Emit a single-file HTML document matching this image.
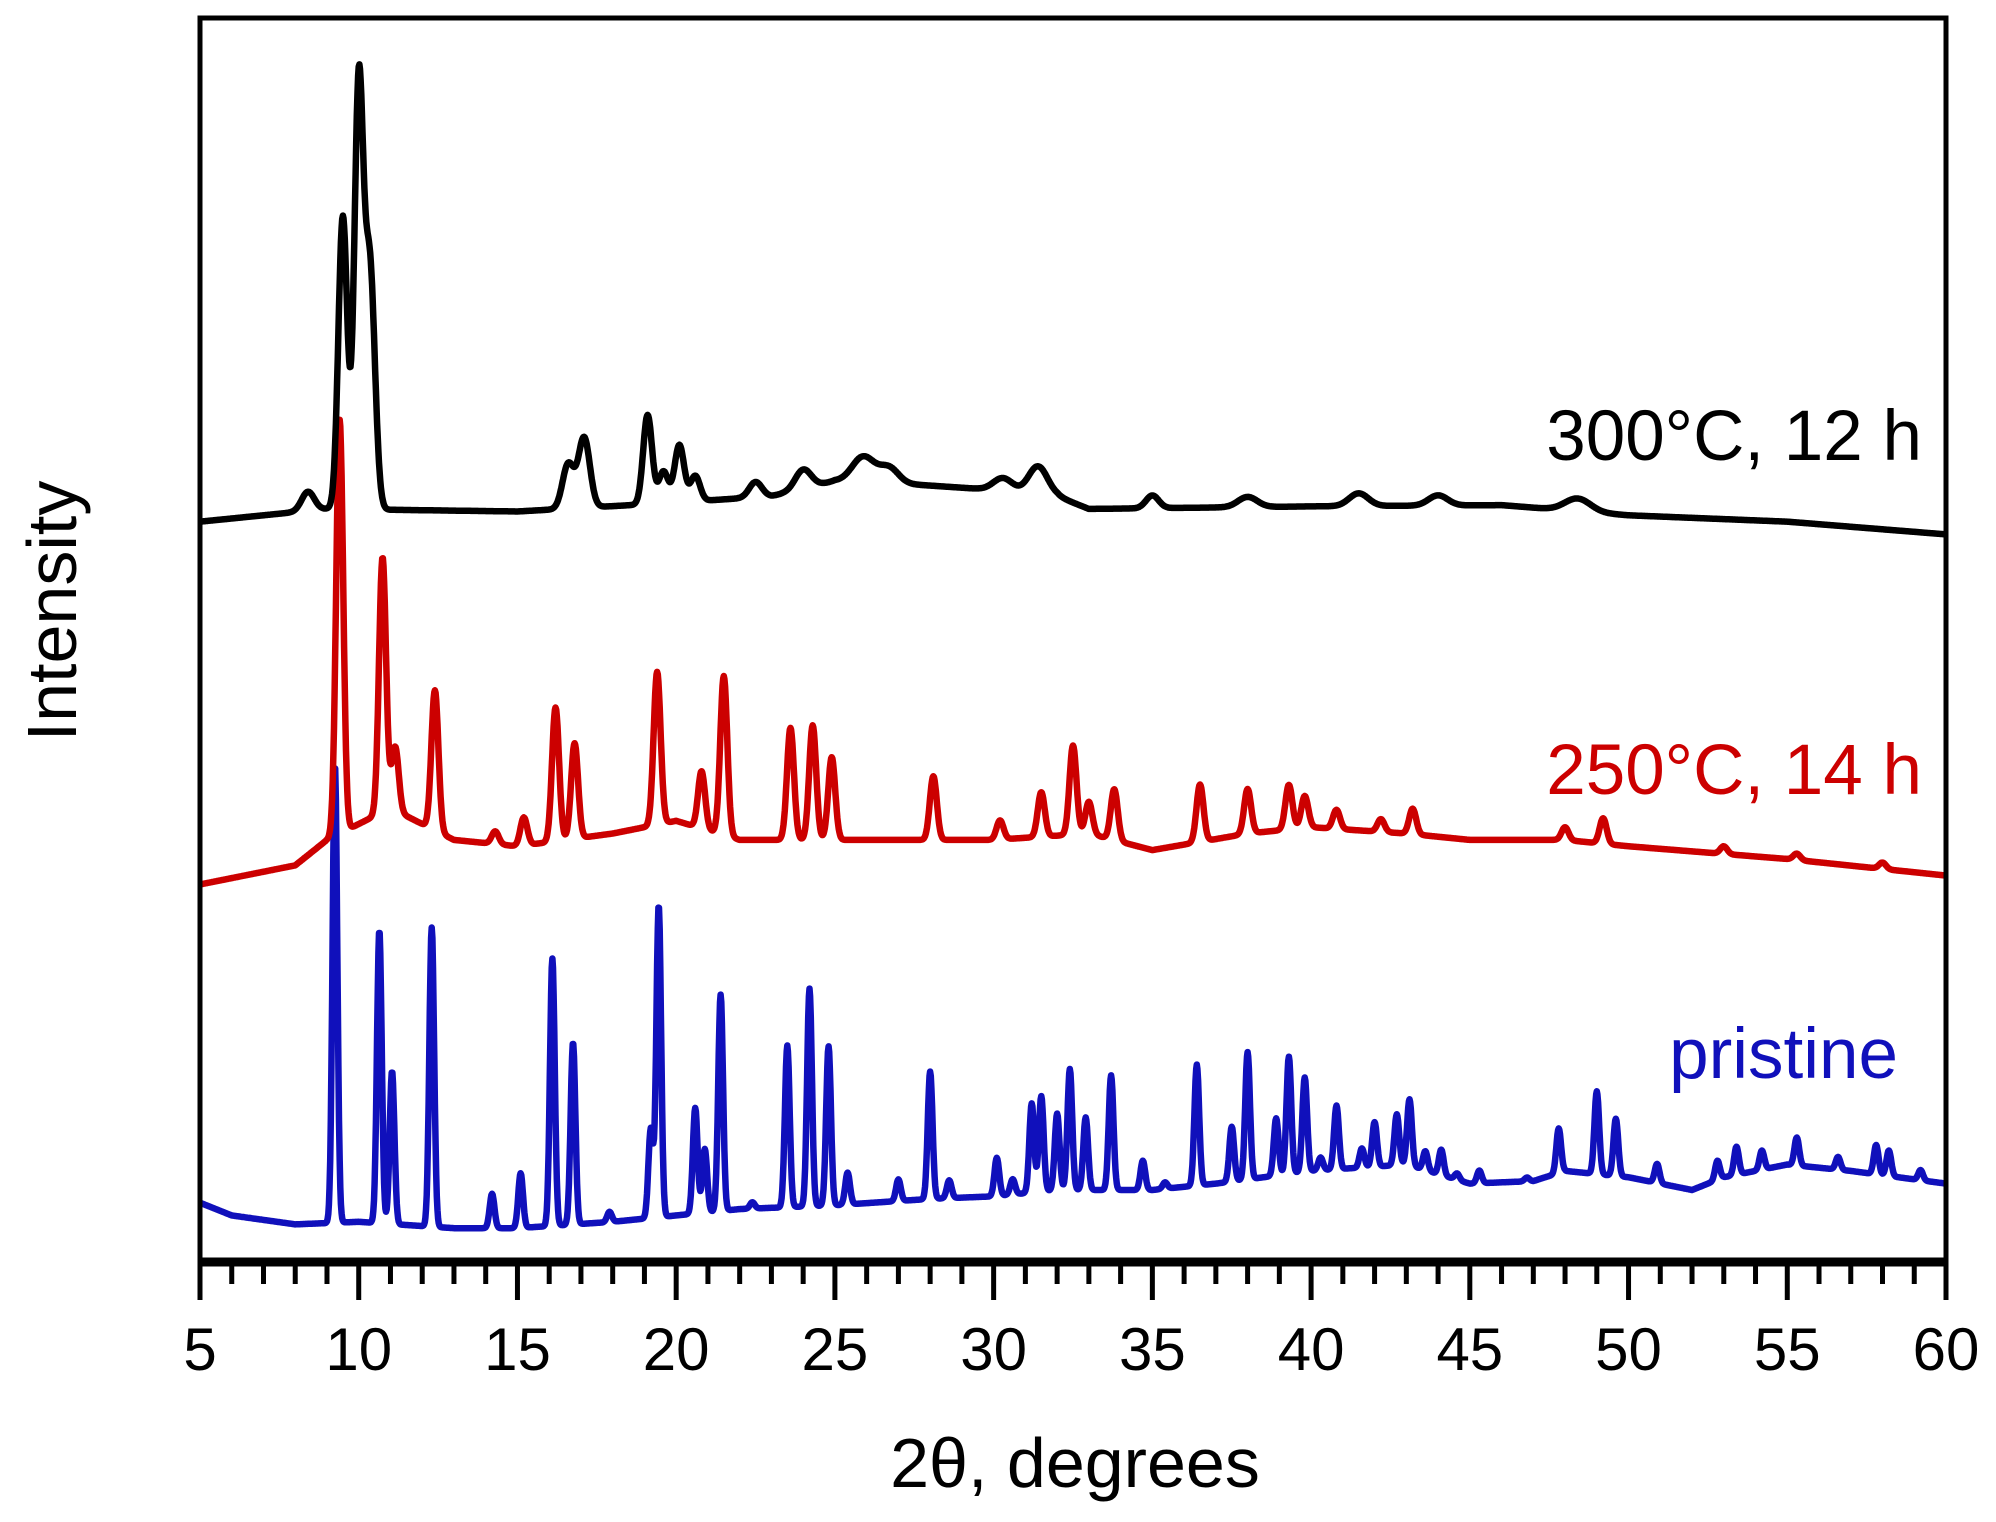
<!DOCTYPE html>
<html><head><meta charset="utf-8"><style>
html,body{margin:0;padding:0;background:#fff;}
svg text{font-family:"Liberation Sans",sans-serif;}
</style></head><body>
<svg id="chart" width="1996" height="1517" viewBox="0 0 1996 1517" xmlns="http://www.w3.org/2000/svg">
<g id="series"></g>
<rect x="200" y="18" width="1746" height="1242" fill="none" stroke="#000" stroke-width="5"/>
<line x1="198" y1="1262" x2="1948" y2="1262" stroke="#000" stroke-width="9"/>
<g id="ticks"></g>
<text x="1075" y="1487" font-size="70" text-anchor="middle">2θ, degrees</text>
<text transform="translate(76,611) rotate(-90)" font-size="70" text-anchor="middle">Intensity</text>
<text x="1922" y="460" font-size="71" text-anchor="end" fill="#000">300°C, 12 h</text>
<text x="1922" y="794" font-size="71" text-anchor="end" fill="#cc0000">250°C, 14 h</text>
<text x="1898" y="1078" font-size="71" text-anchor="end" fill="#1010bb">pristine</text>
</svg>
<script>
// x ticks
const xTicks = [5,10,15,20,25,30,35,40,45,50,55,60];
// black (300C) baseline & peaks
const blackBaseX = [5,9,15,20,23,25,27,30,32,33,40,46,50,55,60];
const blackBaseY = [580,590,588,595,600,612,610,605,600,590,592,593,585,580,570];
const blackPeakPos = [8.4,9.5,10.0,10.35,16.6,17.1,19.1,19.6,20.1,20.6,22.5,24.0,25.9,26.7,30.3,31.4,35.0,38.0,41.5,44.0,48.4];
const blackPeakH = [15,230,330,190,35,55,70,25,45,20,12,15,20,12,10,22,10,8,10,8,10];
const blackPeakW = [0.2,0.14,0.14,0.16,0.18,0.18,0.14,0.15,0.15,0.15,0.2,0.25,0.35,0.3,0.3,0.3,0.2,0.3,0.3,0.3,0.4];
// red (250C)
const redBaseX = [5,8,9,11,13,15,18,20,22,25,30,33,35,38,40,43,45,48,50,55,60];
const redBaseY = [295,310,330,355,330,325,335,345,330,330,330,335,322,335,340,335,330,330,325,315,302];
const redPeakPos = [9.4,10.75,11.15,12.4,14.3,15.2,16.2,16.8,19.4,20.8,21.5,23.6,24.3,24.9,28.1,30.2,31.5,32.5,33.0,33.8,36.5,38.0,39.3,39.8,40.8,42.2,43.2,48.0,49.2,53.0,55.3,58.0];
const redPeakH = [325,200,50,110,10,22,105,75,120,45,125,88,90,65,50,15,35,70,25,40,45,35,35,25,15,10,20,10,20,6,5,5];
// blue (pristine)
const blueBaseX = [5,6,8,10,13,15,18,20,22,25,28,30,32,35,37,40,43,45,47,48,50,52,53,55,57,60];
const blueBaseY = [45,35,28,30,25,25,30,35,40,43,48,50,55,55,60,70,75,60,62,70,65,55,65,75,70,60];
const bluePeakPos = [9.25,10.65,11.05,12.3,14.2,15.1,16.1,16.75,17.9,19.2,19.45,20.6,20.9,21.4,22.4,23.5,24.2,24.8,25.4,27.0,28.0,28.6,30.1,30.6,31.2,31.5,32.0,32.4,32.9,33.7,34.7,35.4,36.4,37.5,38.0,38.9,39.3,39.8,40.3,40.8,41.6,42.0,42.7,43.1,43.6,44.1,44.6,45.3,46.8,47.8,49.0,49.6,50.9,52.8,53.4,54.2,55.3,56.6,57.8,58.2,59.2];
const bluePeakH = [360,230,120,235,27,43,210,143,8,70,245,83,50,170,5,127,171,125,25,17,100,14,30,12,70,75,60,95,57,90,23,5,95,43,100,45,92,74,10,50,15,35,40,52,15,20,5,10,3,35,65,45,15,15,22,15,22,10,23,20,8];

const X0=200,X1=1946,Y0=1260,SY=1.273;
const xS = v => X0 + (v-5)/55*(X1-X0);
const yS = v => Y0 - v*SY;
function interp(xs,ys,x){
  if(x<=xs[0]) return ys[0];
  for(let i=1;i<xs.length;i++){ if(x<=xs[i]){const t=(x-xs[i-1])/(xs[i]-xs[i-1]);return ys[i-1]+t*(ys[i]-ys[i-1]);} }
  return ys[ys.length-1];
}
function build(bx,by,pp,ph,pw,defW){
  let d='';
  for(let x=5;x<=60.0001;x+=0.02){
    let v=interp(bx,by,x);
    for(let i=0;i<pp.length;i++){const w=pw?pw[i]:defW;const dx=(x-pp[i])/w;if(Math.abs(dx)<6)v+=ph[i]*Math.exp(-0.5*dx*dx);}
    d+=(d?'L':'M')+xS(x).toFixed(1)+','+yS(v).toFixed(1);
  }
  return d;
}
const NS='http://www.w3.org/2000/svg';
const g=document.getElementById('series');
function addPath(d,color,name){
  const p=document.createElementNS(NS,'path');
  p.setAttribute('d',d);p.setAttribute('fill','none');p.setAttribute('stroke',color);
  p.setAttribute('stroke-width','6.5');p.setAttribute('stroke-linejoin','round');
  
  
  g.appendChild(p);
}
addPath(build(blueBaseX,blueBaseY,bluePeakPos,bluePeakH,null,0.075),'#1010bb','pristine-trace');
addPath(build(redBaseX,redBaseY,redPeakPos,redPeakH,null,0.11),'#cc0000','trace-250c');
addPath(build(blackBaseX,blackBaseY,blackPeakPos,blackPeakH,blackPeakW,0.2),'#000','trace-300c');
const tg=document.getElementById('ticks');
for(let v=5;v<=60;v++){
  const major=xTicks.includes(v);
  const l=document.createElementNS(NS,'line');
  l.setAttribute('x1',xS(v));l.setAttribute('x2',xS(v));
  l.setAttribute('y1',1262);l.setAttribute('y2',major?1300:1284);
  l.setAttribute('stroke','#000');l.setAttribute('stroke-width','5');
  
  
  tg.appendChild(l);
}
xTicks.forEach(v=>{
  const t=document.createElementNS(NS,'text');
  t.setAttribute('x',xS(v));t.setAttribute('y',1370);
  t.setAttribute('font-size','60');t.setAttribute('text-anchor','middle');
  t.textContent=v;
  
  
  tg.appendChild(t);
});
</script>
</body></html>
